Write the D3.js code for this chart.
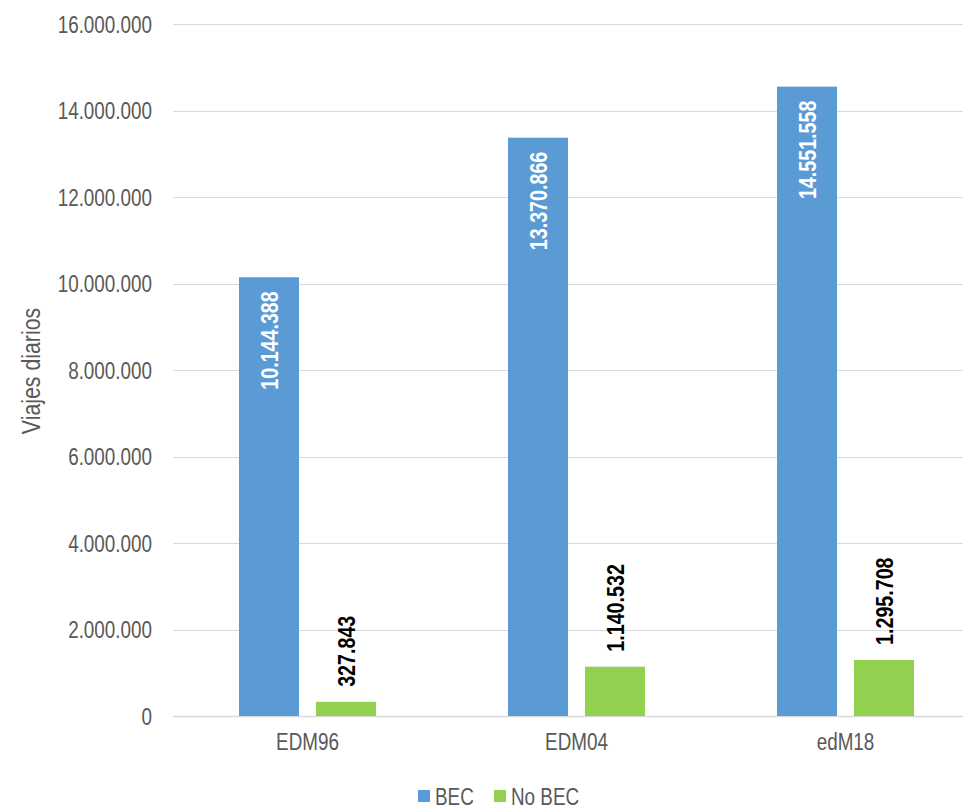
<!DOCTYPE html>
<html>
<head>
<meta charset="utf-8">
<script src="https://cdn.jsdelivr.net/npm/d3@7"></script>
<style>
  html, body { margin: 0; padding: 0; background: #fff; }
  svg { display: block; }
  text { font-family: "Liberation Sans Narrow", "Arial Narrow", "Liberation Sans", Arial, sans-serif; }
</style>
</head>
<body>
<svg id="chart" width="963" height="812"></svg>
<script>
// Viajes diarios por encuesta de movilidad
const categories = ["EDM96", "EDM04", "edM18"];
const seriesNames = ["BEC", "No BEC"];
const becValues = [10144388, 13370866, 14551558];
const noBecValues = [327843, 1140532, 1295708];
const yTicks = [0, 2000000, 4000000, 6000000, 8000000, 10000000, 12000000, 14000000, 16000000];
const seriesColors = ["#5B9BD5", "#92D050"];

const W = 963, H = 812;
const margin = { left: 173, right: -17, top: 24, bottom: 96 };
// condensed look: squeeze glyphs horizontally
const NARROW = "scale(0.82,1)";

const svg = d3.select("#chart");

const fmt = d3.formatLocale({ decimal: ",", thousands: ".", grouping: [3], currency: ["", "€"] }).format(",d");

const y = d3.scaleLinear().domain([0, 16000000]).range([H - margin.bottom, margin.top]);
const x = d3.scaleBand().domain(categories).range([margin.left, W - margin.right]).padding(0);
const xs = d3.scaleBand().domain(seriesNames).range([0, x.bandwidth()])
  .paddingInner(17 / 77).paddingOuter(0.857);

// gridlines
svg.append("g")
  .selectAll("line")
  .data(yTicks)
  .join("line")
  .attr("x1", margin.left)
  .attr("x2", W)
  .attr("y1", d => Math.round(y(d)) + 0.5)
  .attr("y2", d => Math.round(y(d)) + 0.5)
  .attr("stroke", "#D9D9D9")
  .attr("stroke-width", d => d === 0 ? 1.5 : 1.2);

// y axis labels
const yAxis = d3.axisLeft(y).tickValues(yTicks).tickFormat(d => fmt(d)).tickSize(0).tickPadding(0);
const gy = svg.append("g").attr("transform", `translate(152,0)`).call(yAxis);
gy.select(".domain").remove();
gy.selectAll("text")
  .attr("font-family", null)
  .attr("font-size", 23)
  .attr("fill", "#595959")
  .attr("x", 0)
  .attr("dy", "0.36em")
  .attr("transform", NARROW);

// y title
svg.append("text")
  .attr("transform", `translate(40,371) rotate(-90) ${NARROW}`)
  .attr("text-anchor", "middle")
  .attr("font-size", 26)
  .attr("fill", "#595959")
  .text("Viajes diarios");

// x axis labels
const xAxis = d3.axisBottom(x).tickSize(0).tickPadding(0);
const gx = svg.append("g").attr("transform", `translate(0,${H - margin.bottom})`).call(xAxis);
gx.select(".domain").remove();
gx.selectAll("text")
  .attr("font-family", null)
  .attr("font-size", 23)
  .attr("fill", "#595959")
  .attr("dy", 0)
  .attr("y", 34)
  .attr("transform", NARROW);

const rows = categories.map((c, i) => ({ cat: c, vals: [becValues[i], noBecValues[i]] }));

const groups = svg.append("g")
  .selectAll("g")
  .data(rows)
  .join("g")
  .attr("transform", d => `translate(${x(d.cat)},0)`);

groups.selectAll("rect")
  .data(d => d.vals.map((v, j) => ({ key: seriesNames[j], v, j })))
  .join("rect")
  .attr("x", d => xs(d.key))
  .attr("width", xs.bandwidth())
  .attr("y", d => y(d.v))
  .attr("height", d => y(0) - y(d.v))
  .attr("fill", d => seriesColors[d.j]);

// value labels: BEC inside top (white), No BEC above bar (black)
groups.selectAll("text.val")
  .data(d => d.vals.map((v, j) => ({ key: seriesNames[j], v, j })))
  .join("text")
  .attr("class", "val")
  .attr("transform", d => {
    const cx = xs(d.key) + xs.bandwidth() / 2;
    const ty = d.j === 0 ? y(d.v) + 14 : y(d.v) - 15;
    return `translate(${cx},${ty}) rotate(-90) ${NARROW}`;
  })
  .attr("text-anchor", d => d.j === 0 ? "end" : "start")
  .attr("dy", "0.36em")
  .attr("font-size", 24)
  .attr("font-weight", "bold")
  .attr("fill", d => d.j === 0 ? "#FFFFFF" : "#000000")
  .text(d => fmt(d.v));

// legend
const legend = svg.append("g");
const legendItems = [
  { name: seriesNames[0], color: seriesColors[0], x: 418 },
  { name: seriesNames[1], color: seriesColors[1], x: 494 }
];
legendItems.forEach(it => {
  legend.append("rect")
    .attr("x", it.x).attr("y", 790)
    .attr("width", 12).attr("height", 12)
    .attr("fill", it.color);
  legend.append("text")
    .attr("transform", `translate(${it.x + 17},805) ${NARROW}`)
    .attr("font-size", 23)
    .attr("fill", "#595959")
    .text(it.name);
});
</script>
</body>
</html>
